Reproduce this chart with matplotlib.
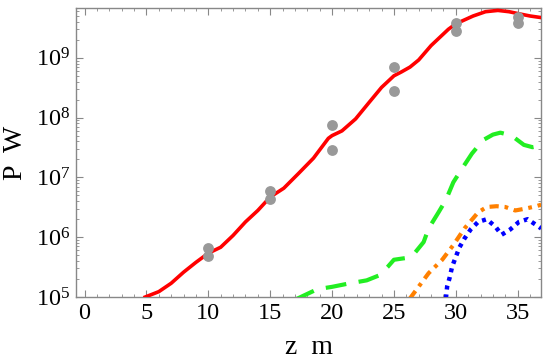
import numpy as np
import matplotlib
matplotlib.use("Agg")
import matplotlib.pyplot as plt
from matplotlib import ticker

plt.rcParams['font.family'] = ['Liberation Serif', 'DejaVu Serif']
plt.rcParams['mathtext.fontset'] = 'custom'
plt.rcParams['mathtext.rm'] = 'Liberation Serif'
plt.rcParams['mathtext.it'] = 'Liberation Serif:italic'

# red curve
z_red = [4.9, 6, 7, 8, 9, 10, 11, 12, 13, 14, 15, 16.1, 17.3, 18.5, 19.7, 20,
         20.8, 21.9, 23, 24, 25, 25.6, 26.3, 27, 28, 29.4, 30, 31.4, 32.4,
         33.4, 34.3, 35, 36, 36.9]
p_red = [1.0e5, 1.23e5, 1.7e5, 2.6e5, 3.8e5, 5.4e5, 6.8e5, 1.07e6, 1.8e6,
         2.8e6, 4.7e6, 6.6e6, 1.17e7, 2.1e7, 4.5e7, 5.0e7, 6.0e7, 9.5e7,
         1.8e8, 3.2e8, 5.0e8, 5.8e8, 7.0e8, 9.2e8, 1.6e9, 3.0e9, 3.7e9,
         5.0e9, 5.9e9, 6.2e9, 5.9e9, 5.5e9, 5.0e9, 4.7e9]

# green dashed
z_green = [17.0, 18.8, 20, 21.2, 22.8, 23.8, 24.5, 25, 26, 26.6, 27.4, 27.8,
           28.6, 29.2, 29.8, 30.5, 31.3, 32.2, 33, 33.6, 34.2, 34.8, 35.5,
           36.2, 36.9]
p_green = [9.0e4, 1.35e5, 1.48e5, 1.66e5, 1.9e5, 2.3e5, 3.2e5, 4.2e5, 4.5e5,
           5.2e5, 8.3e5, 1.4e6, 2.6e6, 4.2e6, 8.3e6, 1.4e7, 2.5e7, 4.2e7,
           5.2e7, 5.6e7, 5.2e7, 4.5e7, 3.5e7, 3.2e7, 3.4e7]

# orange dash-dot
z_orange = [26.3, 26.9, 27.8, 28.9, 29.8, 30.7, 31.8, 32.5, 33.3, 34.0, 34.8,
            35.6, 36.5, 36.9]
p_orange = [9.5e4, 1.4e5, 2.5e5, 4.2e5, 7.4e5, 1.4e6, 2.6e6, 3.2e6, 3.3e6,
            3.2e6, 2.8e6, 3.0e6, 3.3e6, 3.5e6]

# blue dotted
z_blue = [29.2, 29.3, 29.5, 29.7, 30, 30.3, 30.7, 31.2, 31.8, 32.5, 33.2,
          33.7, 34.4, 35.1, 35.8, 36.5, 36.9]
p_blue = [9.5e4, 1.5e5, 2.1e5, 3.2e5, 4.7e5, 6.8e5, 9.5e5, 1.35e6, 1.8e6,
          2.0e6, 1.5e6, 1.1e6, 1.35e6, 1.8e6, 2.0e6, 1.6e6, 1.4e6]

# measured points
z_meas = [10, 10, 15, 15, 20, 20, 25, 25, 30, 30, 35, 35]
p_meas = [6.6e5, 4.8e5, 5.9e6, 4.3e6, 7.6e7, 2.9e7, 7.1e8, 2.8e8, 3.8e9,
          2.8e9, 4.8e9, 3.8e9]

fig = plt.figure(figsize=(5.5, 3.64), dpi=100)
ax = fig.add_axes([0.138, 0.184, 0.846, 0.794])

ax.plot(z_red, p_red, color='#ff0000', lw=2.6, zorder=3)
ax.plot(z_green, p_green, color='#22ee22', lw=3.0, dashes=(5, 3), zorder=3)
ax.plot(z_orange, p_orange, color='#ff8000', lw=3.0, dashes=(2.2, 1.4, 0.9, 1.4), zorder=3)
ax.plot(z_blue, p_blue, color='#0000ff', lw=3.2, dashes=(0.9, 1.1), zorder=3)
ax.plot(z_meas, p_meas, 'o', color='#999999', ms=7.8, mec='none', zorder=4)

ax.set_yscale('log')
ax.set_xlim(-0.7, 36.9)
ax.set_ylim(1e5, 6.8e9)
ax.set_xticks([0, 5, 10, 15, 20, 25, 30, 35])
ax.xaxis.set_minor_locator(ticker.MultipleLocator(1))
ax.yaxis.set_major_locator(ticker.LogLocator(base=10, numticks=10))
ax.yaxis.set_minor_locator(ticker.LogLocator(base=10, subs=np.arange(2, 10), numticks=20))
ax.yaxis.set_minor_formatter(ticker.NullFormatter())

for s in ax.spines.values():
    s.set_color('#888888')
    s.set_linewidth(1.0)
ax.tick_params(which='both', direction='in', top=True, right=True,
               color='#888888', labelsize=17.5, labelcolor='black')
ax.tick_params(which='major', length=5, width=0.8, pad=4)
ax.tick_params(which='minor', length=2.5, width=0.6)

ax.set_xlabel('z  m', fontsize=20, labelpad=8)
ax.set_ylabel('P  W', fontsize=20, labelpad=6)

fig.savefig('out.png', dpi=100)
